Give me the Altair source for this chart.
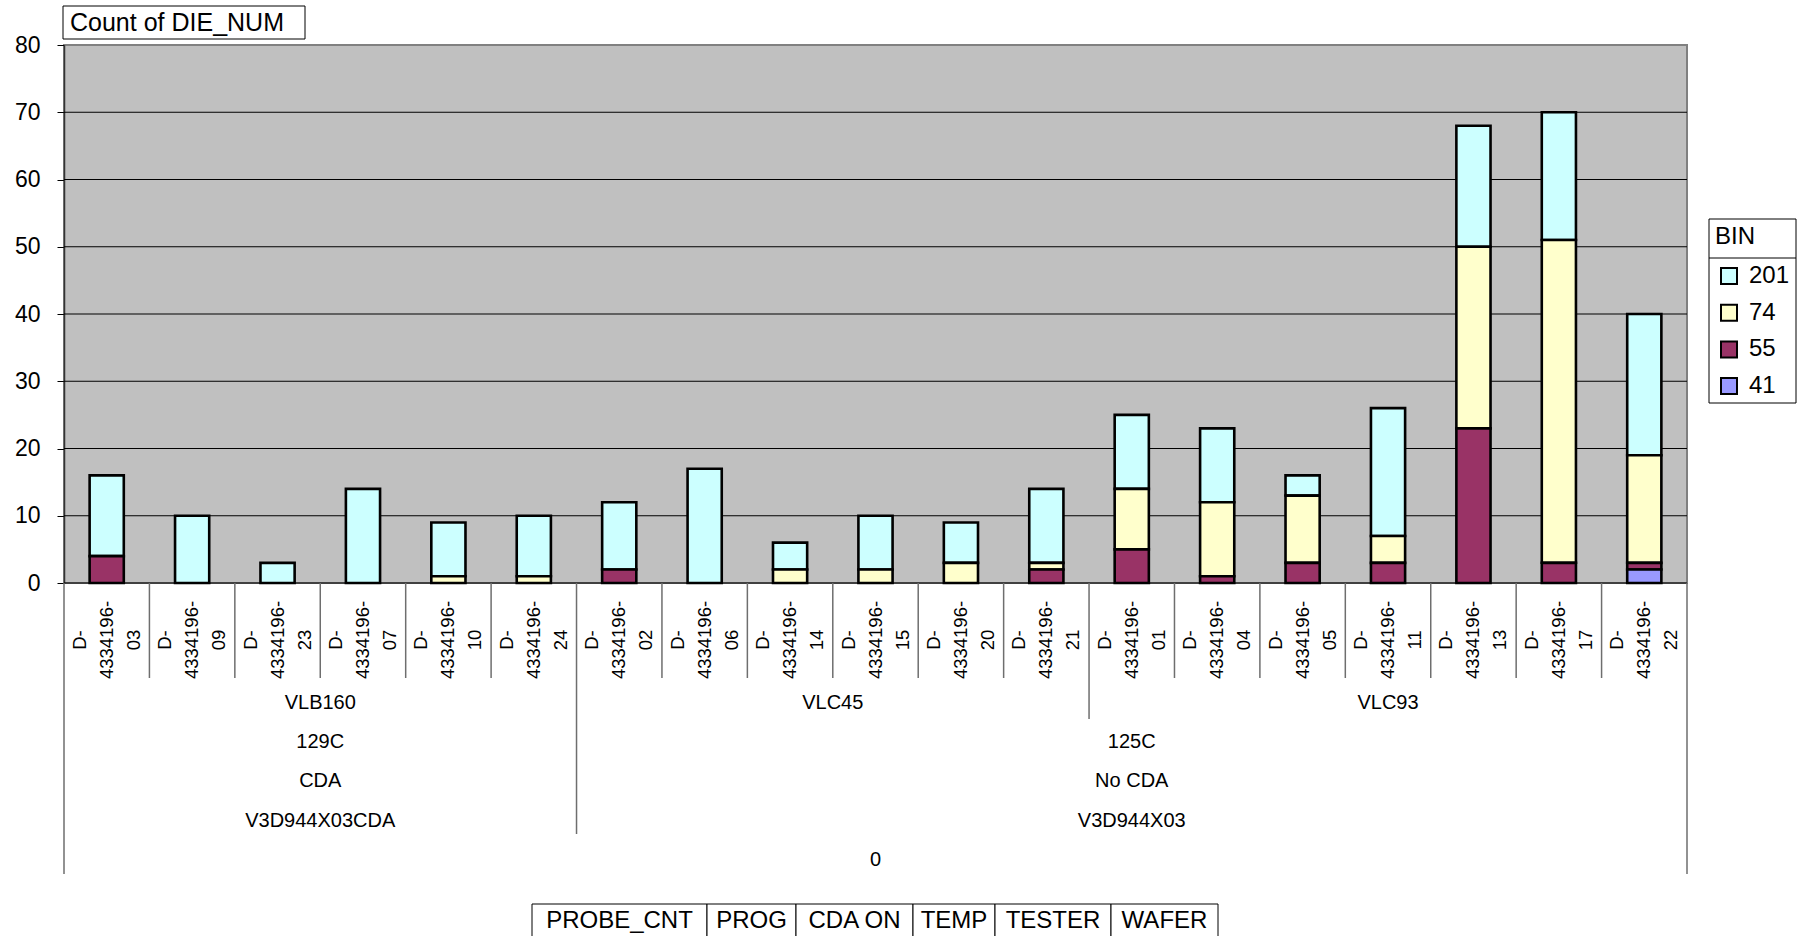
import altair as alt
import pandas as pd

# ---------------------------------------------------------------- data
wafers = [
    "D-4334196-03", "D-4334196-09", "D-4334196-23", "D-4334196-07", "D-4334196-10", "D-4334196-24",
    "D-4334196-02", "D-4334196-06", "D-4334196-14", "D-4334196-15", "D-4334196-20", "D-4334196-21",
    "D-4334196-01", "D-4334196-04", "D-4334196-05", "D-4334196-11", "D-4334196-13", "D-4334196-17",
    "D-4334196-22",
]
testers = ["VLB160"] * 6 + ["VLC45"] * 6 + ["VLC93"] * 7
temps = ["129C"] * 6 + ["125C"] * 13
cda_on = ["CDA"] * 6 + ["No CDA"] * 13
progs = ["V3D944X03CDA"] * 6 + ["V3D944X03"] * 13
probe_cnt = ["0"] * 19

bins = ["201", "74", "55", "41"]
count_201 = [12, 10, 3, 14, 8, 9, 10, 17, 4, 8, 6, 11, 11, 11, 3, 19, 18, 19, 21]
count_74 = [0, 0, 0, 0, 1, 1, 0, 0, 2, 2, 3, 1, 9, 11, 10, 4, 27, 48, 16]
count_55 = [4, 0, 0, 0, 0, 0, 2, 0, 0, 0, 0, 2, 5, 1, 3, 3, 23, 3, 1]
count_41 = [0, 0, 0, 0, 0, 0, 0, 0, 0, 0, 0, 0, 0, 0, 0, 0, 0, 0, 2]

y_ticks = [0, 10, 20, 30, 40, 50, 60, 70, 80]
value_title = "Count of DIE_NUM"
legend_title = "BIN"
field_buttons = ["PROBE_CNT", "PROG", "CDA ON", "TEMP", "TESTER", "WAFER"]

# ---------------------------------------------------------------- style / layout
bin_colors = ["#CCFFFF", "#FFFFCC", "#993366", "#9999FF"]
FONT = "Liberation Sans"
W, H = 1623, 538
PAD = {"left": 64, "top": 45, "right": 116, "bottom": 353}
SEP_COLOR = "#6e6e6e"

TICK_LABEL_Y = 595
ROW_LABEL_Y = {"TESTER": 658, "TEMP": 697, "CDA ON": 736, "PROG": 776, "PROBE_CNT": 815}
ROW_END_Y = {"WAFER": 633, "TESTER": 674, "TEMP": 713, "CDA ON": 752, "PROG": 789, "PROBE_CNT": 829}
BUTTON_EDGES = [468, 643, 732, 849, 931, 1047, 1154]
BUTTON_TOP, BUTTON_BOTTOM, BUTTON_TEXT_Y = 859, 905, 876

n = len(wafers)
xscale = alt.Scale(domain=[0, n], nice=False, zero=False)
yscale = alt.Scale(domain=[0, 80], nice=False, zero=True)
yaxis = alt.Axis(
    values=y_ticks, title=None, grid=False, tickSize=7, tickColor="black", tickWidth=1,
    labelFontSize=23, labelPadding=17, labelColor="black", labelFont=FONT,
    domainColor="#333333", domainWidth=1.5,
)

# ---------------------------------------------------------------- tables
series = {"201": count_201, "74": count_74, "55": count_55, "41": count_41}
bar_rows = []
for i, w in enumerate(wafers):
    for b in bins:
        bar_rows.append({"i": i, "wafer": w, "bin": b, "count": series[b][i],
                         "rank": len(bins) - 1 - bins.index(b)})
bars_df = pd.DataFrame(bar_rows)

levels = [("PROBE_CNT", probe_cnt), ("PROG", progs), ("CDA ON", cda_on),
          ("TEMP", temps), ("TESTER", testers), ("WAFER", wafers)]

# category boundaries, tagged with the outermost level that changes there
boundary_rows = []
for k in range(n + 1):
    if k == 0 or k == n:
        lvl = "PROBE_CNT"
    else:
        lvl = next(name for name, vals in levels if vals[k - 1] != vals[k])
    boundary_rows.append({"k": k, "level": lvl})
boundaries = pd.DataFrame(boundary_rows)


def spans(vals):
    out, start = [], 0
    for k in range(1, n + 1):
        if k == n or vals[k] != vals[start]:
            out.append({"c": (start + k) / 2, "label": vals[start]})
            start = k
    return pd.DataFrame(out)


tick_df = pd.DataFrame({
    "c": [i + 0.5 for i in range(n)],
    "l1": [w.split("-")[0] + "-" for w in wafers],
    "l2": [w.split("-")[1] + "-" for w in wafers],
    "l3": [w.split("-")[2] for w in wafers],
})

one = pd.DataFrame({"label": [value_title]})

# ---------------------------------------------------------------- layers
layers = []

grid = alt.Chart(pd.DataFrame({"v": y_ticks[:-1]})).mark_rule(color="black", strokeWidth=1).encode(
    y=alt.Y("v:Q", scale=yscale, axis=yaxis)
)
layers.append(grid)

legend = alt.Legend(
    orient="none", legendX=1645, legendY=174, title=legend_title,
    titleFontSize=24, titleFont=FONT, titleFontWeight="normal", titleColor="black", titlePadding=15,
    labelFontSize=24, labelFont=FONT, labelColor="black", labelOffset=8,
    symbolType="square", symbolSize=256, symbolStrokeColor="black", symbolStrokeWidth=2,
    symbolOffset=2, rowPadding=12.7, padding=6,
)

bars = (
    alt.Chart(bars_df)
    .transform_filter("datum.count > 0")
    .transform_stack(stack="count", groupby=["i"], as_=["y0", "y1"],
                     sort=[alt.SortField("rank", order="ascending")])
    .transform_calculate(x0="datum.i + 0.3", x1="datum.i + 0.7")
    .mark_bar(stroke="black", strokeWidth=2.6)
    .encode(
        x=alt.X("x0:Q", scale=xscale, axis=None),
        x2="x1:Q",
        y=alt.Y("y0:Q", scale=yscale, axis=yaxis),
        y2="y1:Q",
        color=alt.Color("bin:N", scale=alt.Scale(domain=bins, range=bin_colors), legend=legend),
    )
)
layers.append(bars)

# separators of the multi-level category axis
for name, _ in levels:
    sub = boundaries[boundaries["level"] == name]
    if len(sub) == 0:
        continue
    layers.append(
        alt.Chart(sub).mark_rule(color=SEP_COLOR, strokeWidth=1.5).encode(
            x=alt.X("k:Q", scale=xscale, axis=None),
            y=alt.value(H), y2=alt.value(ROW_END_Y[name]),
        )
    )

# group labels of the outer levels
for name, vals in levels[:-1]:
    layers.append(
        alt.Chart(spans(vals)).mark_text(font=FONT, fontSize=20, color="black",
                                         align="center", baseline="middle").encode(
            x=alt.X("c:Q", scale=xscale, axis=None),
            y=alt.value(ROW_LABEL_Y[name]),
            text="label:N",
        )
    )

# wafer labels, wrapped on three lines and rotated
for col, off in [("l1", -27), ("l2", 0), ("l3", 27)]:
    layers.append(
        alt.Chart(tick_df).mark_text(font=FONT, fontSize=18.5, color="black", angle=270,
                                     align="center", baseline="middle", dy=off).encode(
            x=alt.X("c:Q", scale=xscale, axis=None),
            y=alt.value(TICK_LABEL_Y),
            text=f"{col}:N",
        )
    )

# data-field button
layers.append(
    alt.Chart(one).mark_rect(fill="white", stroke="black", strokeWidth=1).encode(
        x=alt.value(-1), x2=alt.value(241), y=alt.value(-39), y2=alt.value(-6)
    )
)
layers.append(
    alt.Chart(one).mark_text(font=FONT, fontSize=25, color="black", align="left",
                             baseline="middle").encode(
        x=alt.value(6), y=alt.value(-22), text="label:N"
    )
)

# legend frame with header divider
layers.append(
    alt.Chart(one).mark_rect(fill=None, stroke="black", strokeWidth=1).encode(
        x=alt.value(1645), x2=alt.value(1732), y=alt.value(174), y2=alt.value(358)
    )
)
layers.append(
    alt.Chart(one).mark_rule(color="black", strokeWidth=1).encode(
        x=alt.value(1645), x2=alt.value(1732), y=alt.value(213)
    )
)

# row-field buttons
for j, label in enumerate(field_buttons):
    x0, x1 = BUTTON_EDGES[j], BUTTON_EDGES[j + 1]
    layers.append(
        alt.Chart(pd.DataFrame({"label": [label]})).mark_rect(fill="white", stroke="black",
                                                              strokeWidth=1).encode(
            x=alt.value(x0), x2=alt.value(x1), y=alt.value(BUTTON_TOP), y2=alt.value(BUTTON_BOTTOM)
        )
    )
    layers.append(
        alt.Chart(pd.DataFrame({"label": [label]})).mark_text(font=FONT, fontSize=24, color="black",
                                                              align="center", baseline="middle").encode(
            x=alt.value((x0 + x1) / 2), y=alt.value(BUTTON_TEXT_Y), text="label:N"
        )
    )

chart = (
    alt.layer(*layers)
    .properties(width=W, height=H, padding=PAD, autosize=alt.AutoSizeParams(type="none"))
    .configure(font=FONT)
    .configure_view(fill="#C0C0C0", stroke="#808080", strokeWidth=2)
)

chart.save("out.html", embed_options={"renderer": "svg", "actions": False})
